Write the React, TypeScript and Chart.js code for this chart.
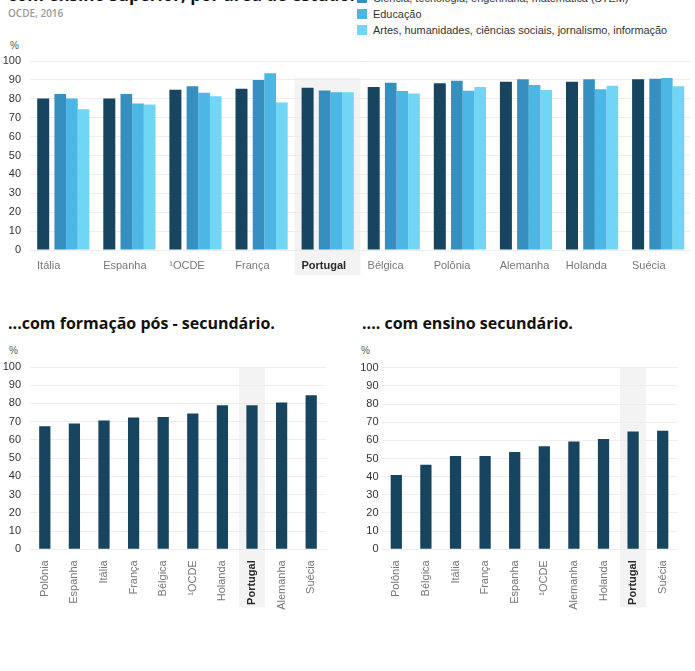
import React, { useEffect, useRef } from "react";
import { Chart, registerables } from "chart.js";

Chart.register(...registerables);

// ---------- DATA ----------
const topCategories = ["Itália", "Espanha", "¹OCDE", "França", "Portugal", "Bélgica", "Polônia", "Alemanha", "Holanda", "Suécia"];
const topTotal = [80.2, 80.2, 84.8, 85.3, 85.9, 86.3, 88.2, 89.0, 89.0, 90.3];
const topStem = [82.6, 82.6, 86.6, 89.9, 84.4, 88.5, 89.5, 90.3, 90.4, 90.6];
const topEducacao = [80.2, 77.5, 83.2, 93.5, 83.4, 84.1, 84.2, 87.3, 85.0, 91.0];
const topArtes = [74.5, 77.0, 81.3, 78.1, 83.5, 82.8, 86.3, 84.6, 86.9, 86.6];

const posCategories = ["Polônia", "Espanha", "Itália", "França", "Bélgica", "¹OCDE", "Holanda", "Portugal", "Alemanha", "Suécia"];
const posValues = [67.5, 69.0, 70.6, 72.3, 72.6, 74.5, 79.0, 79.0, 80.5, 84.5];

const secCategories = ["Polônia", "Bélgica", "Itália", "França", "Espanha", "¹OCDE", "Alemanha", "Holanda", "Portugal", "Suécia"];
const secValues = [40.9, 46.6, 51.4, 51.4, 53.6, 56.7, 59.3, 60.7, 64.8, 65.3];

const legendLabels = [
  "Ciência, tecnologia, engenharia, matemática (STEM)",
  "Educação",
  "Artes, humanidades, ciências sociais, jornalismo, informação",
];

const HIGHLIGHT = "Portugal";

// ---------- STYLE ----------
const C_DARK = "#17445f";
const C_B1 = "#3590bf";
const C_B2 = "#4cb6e4";
const C_B3 = "#71d6f6";
const GRID = "#ededed";
const BAND = "#f3f3f3";
const TICK_FONT = "'Liberation Sans', Arial, sans-serif";

function bandPlugin(id: string, widthRatio: number, topValue: number, below: number) {
  return {
    id,
    beforeDraw(chart: any) {
      const xs = chart.scales.x;
      const ys = chart.scales.y;
      const labels = xs.getLabels();
      const idx = labels.indexOf(HIGHLIGHT);
      if (idx < 0) return;
      const slot = (xs.right - xs.left) / labels.length;
      const cx = xs.getPixelForValue(idx);
      const w = slot * widthRatio;
      const top = ys.getPixelForValue(topValue);
      const bottom = chart.chartArea.bottom + below;
      const ctx = chart.ctx;
      ctx.save();
      ctx.fillStyle = BAND;
      ctx.fillRect(cx - w / 2, top, w, bottom - top);
      ctx.restore();
    },
  };
}

const tickFont = (size: number) => (ctx: any) => ({
  family: TICK_FONT,
  size,
  weight: ctx.tick && ctx.tick.label === HIGHLIGHT ? "bold" : "normal",
});
const tickColor = (ctx: any) => (ctx.tick && ctx.tick.label === HIGHLIGHT ? "#2a2a2a" : "#777");

function yScale(width: number, pad: number) {
  return {
    min: 0,
    max: 100,
    ticks: { stepSize: 10, padding: pad, color: "#333", font: { family: TICK_FONT, size: 11 } },
    grid: { color: GRID, drawTicks: false },
    border: { display: false },
    afterFit: (s: any) => {
      s.width = width;
    },
  };
}

function TopChart() {
  const ref = useRef<HTMLCanvasElement>(null);
  useEffect(() => {
    const chart = new Chart(ref.current!, {
      type: "bar",
      data: {
        labels: topCategories,
        datasets: [
          { label: "Total", data: topTotal, backgroundColor: C_DARK, categoryPercentage: 0.8008, barPercentage: 0.907 },
          { label: legendLabels[0], data: topStem, backgroundColor: C_B1, categoryPercentage: 0.339, barPercentage: 2.08 },
          { label: legendLabels[1], data: topEducacao, backgroundColor: C_B2, categoryPercentage: 1.071, barPercentage: 0.658 },
          { label: legendLabels[2], data: topArtes, backgroundColor: C_B3, categoryPercentage: 0.827, barPercentage: 0.852 },
        ],
      },
      options: {
        responsive: false,
        animation: false,
        devicePixelRatio: 1,
        layout: { padding: { top: 21, right: 4, left: 0, bottom: 0 } },
        plugins: { legend: { display: false }, tooltip: { enabled: false } },
        scales: {
          x: {
            grid: { display: false },
            border: { display: false },
            ticks: {
              autoSkip: false,
              maxRotation: 0,
              minRotation: 0,
              align: "start",
              labelOffset: -26,
              padding: 1,
              font: tickFont(11),
              color: tickColor,
            },
            afterFit: (s: any) => {
              s.height = 35;
              s.paddingLeft = 0;
              s.paddingRight = 0;
            },
          },
          y: yScale(30, 9),
        },
      } as any,
      plugins: [bandPlugin("bandTop", 1, 91, 25)],
    });
    return () => chart.destroy();
  }, []);
  return <canvas ref={ref} width={695} height={245} style={{ position: "absolute", left: 0, top: 40, width: 695, height: 245 }} />;
}

function SingleChart(props: { labels: string[]; values: number[]; left: number; width: number; yWidth: number; yPad: number; padTop: number; padRight: number }) {
  const ref = useRef<HTMLCanvasElement>(null);
  useEffect(() => {
    const chart = new Chart(ref.current!, {
      type: "bar",
      data: {
        labels: props.labels,
        datasets: [{ data: props.values, backgroundColor: C_DARK, categoryPercentage: 1, barPercentage: 0.38 }],
      },
      options: {
        responsive: false,
        animation: false,
        devicePixelRatio: 1,
        layout: { padding: { top: props.padTop, right: props.padRight, left: 0, bottom: 0 } },
        plugins: { legend: { display: false }, tooltip: { enabled: false } },
        scales: {
          x: {
            grid: { display: false },
            border: { display: false },
            ticks: {
              autoSkip: false,
              maxRotation: 90,
              minRotation: 90,
              padding: 3,
              font: tickFont(11),
              color: tickColor,
            },
            afterFit: (s: any) => {
              s.height = 70.7;
              s.paddingLeft = 0;
              s.paddingRight = 0;
            },
          },
          y: yScale(props.yWidth, props.yPad),
        },
      } as any,
      plugins: [bandPlugin("band_" + props.left, 0.88, 100, 58)],
    });
    return () => chart.destroy();
  }, []);
  return (
    <canvas
      ref={ref}
      width={props.width}
      height={280}
      style={{ position: "absolute", left: props.left, top: 340, width: props.width, height: 280 }}
    />
  );
}

const titleFont = "'Open Sans', 'Noto Sans', sans-serif";

export default function App() {
  const legendColors = [C_B1, C_B2, C_B3];
  return (
    <div
      style={{
        position: "absolute",
        left: 0,
        top: 0,
        width: 695,
        height: 671,
        overflow: "hidden",
        background: "#ffffff",
        fontFamily: TICK_FONT,
      }}
    >
      <div style={{ position: "absolute", left: 8, top: -15, fontFamily: titleFont, fontWeight: 700, fontSize: 17, lineHeight: "20px", color: "#111", whiteSpace: "nowrap" }}>
        com ensino superior, por área de estudo.
      </div>
      <div style={{ position: "absolute", left: 8, top: 6, fontFamily: titleFont, fontWeight: 600, fontSize: 10, lineHeight: "14px", color: "#9a9a9a" }}>
        OCDE, 2016
      </div>
      {legendLabels.map((t, i) => (
        <div key={t} style={{ position: "absolute", left: 357, top: -10 + i * 16, height: 16, display: "flex", alignItems: "center", whiteSpace: "nowrap" }}>
          <span style={{ display: "inline-block", width: 10, height: 10, background: legendColors[i], marginRight: 6 }} />
          <span style={{ fontSize: 10.9, color: "#333", fontFamily: TICK_FONT }}>{t}</span>
        </div>
      ))}
      <div style={{ position: "absolute", left: 10, top: 40, fontSize: 10, color: "#555" }}>%</div>
      <TopChart />

      <div style={{ position: "absolute", left: 8, top: 312, fontFamily: titleFont, fontWeight: 700, fontSize: 16, lineHeight: "22px", color: "#111", whiteSpace: "nowrap" }}>
        ...com formação pós - secundário.
      </div>
      <div style={{ position: "absolute", left: 362, top: 312, fontFamily: titleFont, fontWeight: 700, fontSize: 16, lineHeight: "22px", color: "#111", whiteSpace: "nowrap" }}>
        .... com ensino secundário.
      </div>
      <div style={{ position: "absolute", left: 9, top: 345, fontSize: 10, color: "#555" }}>%</div>
      <div style={{ position: "absolute", left: 361, top: 345, fontSize: 10, color: "#555" }}>%</div>
      <SingleChart labels={posCategories} values={posValues} left={0} width={345} yWidth={30} yPad={9} padTop={27} padRight={19} />
      <SingleChart labels={secCategories} values={secValues} left={345} width={350} yWidth={36.5} yPad={3} padTop={27.7} padRight={17.5} />
    </div>
  );
}
